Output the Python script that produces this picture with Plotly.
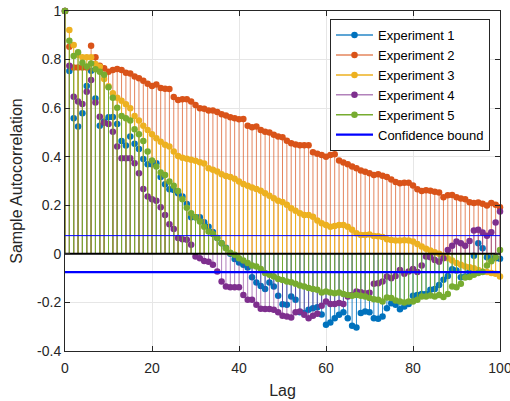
import plotly.graph_objects as go

lags = list(range(101))

exp1 = [1.0, 0.753, 0.558, 0.524, 0.579, 0.691, 0.754, 0.64, 0.527, 0.545,
        0.562, 0.564, 0.535, 0.465, 0.446, 0.483, 0.453, 0.432, 0.391, 0.369,
        0.369, 0.373, 0.316, 0.287, 0.266, 0.263, 0.25, 0.236, 0.205, 0.151,
        0.151, 0.151, 0.13, 0.112, 0.09, 0.065, 0.044, 0.025, 0.0, -0.021,
        -0.036, -0.045, -0.056, -0.096, -0.118, -0.132, -0.145, -0.118, -0.134, -0.173,
        -0.207, -0.21, -0.176, -0.189, -0.24, -0.244, -0.23, -0.224, -0.22, -0.25,
        -0.292, -0.283, -0.265, -0.251, -0.24, -0.265, -0.296, -0.303, -0.244, -0.237,
        -0.24, -0.265, -0.267, -0.258, -0.224, -0.203, -0.21, -0.228, -0.217, -0.206,
        -0.173, -0.169, -0.165, -0.165, -0.148, -0.145, -0.128, -0.107, -0.091, -0.063,
        -0.069, -0.096, -0.093, -0.072, -0.008, 0.044, 0.023, -0.014, -0.018, -0.018,
        -0.02]

exp2 = [1.0, 0.853, 0.767, 0.767, 0.767, 0.767, 0.857, 0.81, 0.775, 0.764,
        0.75, 0.757, 0.761, 0.757, 0.746, 0.743, 0.73, 0.723, 0.713, 0.70,
        0.691, 0.697, 0.683, 0.68, 0.679, 0.646, 0.634, 0.637, 0.637, 0.627,
        0.613, 0.60, 0.597, 0.59, 0.59, 0.584, 0.575, 0.57, 0.563, 0.558,
        0.554, 0.555, 0.528, 0.521, 0.524, 0.51, 0.503, 0.50, 0.49, 0.483,
        0.48, 0.466, 0.455, 0.45, 0.447, 0.447, 0.447, 0.418, 0.412, 0.407,
        0.40, 0.407, 0.41, 0.384, 0.376, 0.369, 0.36, 0.352, 0.343, 0.338,
        0.332, 0.325, 0.328, 0.322, 0.316, 0.306, 0.296, 0.291, 0.293, 0.293,
        0.281, 0.266, 0.259, 0.262, 0.26, 0.256, 0.253, 0.233, 0.241, 0.242,
        0.233, 0.228, 0.225, 0.213, 0.209, 0.211, 0.206, 0.199, 0.209, 0.202,
        0.192]

exp3 = [1.0, 0.922, 0.86, 0.82, 0.81, 0.81, 0.81, 0.782, 0.77, 0.72,
        0.69, 0.661, 0.643, 0.63, 0.616, 0.60, 0.568, 0.549, 0.528, 0.51,
        0.492, 0.476, 0.462, 0.449, 0.442, 0.421, 0.403, 0.396, 0.392, 0.387,
        0.383, 0.377, 0.372, 0.352, 0.346, 0.339, 0.328, 0.321, 0.316, 0.309,
        0.298, 0.288, 0.28, 0.273, 0.267, 0.26, 0.25, 0.239, 0.229, 0.219,
        0.214, 0.202, 0.188, 0.177, 0.167, 0.16, 0.16, 0.153, 0.137, 0.126,
        0.119, 0.112, 0.115, 0.119, 0.119, 0.112, 0.099, 0.085, 0.078, 0.078,
        0.08, 0.074, 0.072, 0.069, 0.06, 0.057, 0.055, 0.055, 0.056, 0.055,
        0.051, 0.041, 0.03, 0.021, 0.014, 0.007, 0.0, -0.008, -0.018, -0.027,
        -0.038, -0.045, -0.052, -0.055, -0.059, -0.066, -0.073, -0.075, -0.079, -0.082,
        -0.093]

exp4 = [1.0, 0.775, 0.647, 0.627, 0.617, 0.668, 0.716, 0.623, 0.565, 0.54,
        0.535, 0.503, 0.442, 0.394, 0.394, 0.394, 0.373, 0.332, 0.267, 0.236,
        0.225, 0.219, 0.192, 0.16, 0.122, 0.102, 0.065, 0.06, 0.058, 0.037,
        -0.011, -0.018, -0.029, -0.032, -0.045, -0.073, -0.114, -0.134, -0.137, -0.137,
        -0.137, -0.169, -0.189, -0.189, -0.21, -0.226, -0.227, -0.227, -0.23, -0.24,
        -0.255, -0.258, -0.262, -0.24, -0.237, -0.251, -0.265, -0.255, -0.247, -0.214,
        -0.196, -0.206, -0.206, -0.202, -0.206, -0.176, -0.169, -0.155, -0.158, -0.162,
        -0.16, -0.123, -0.121, -0.114, -0.093, -0.1, -0.091, -0.066, -0.082, -0.073,
        -0.062, -0.075, -0.048, -0.011, -0.014, -0.025, -0.032, -0.018, 0.016, 0.033,
        0.051, 0.044, 0.033, 0.053, 0.096, 0.099, 0.088, 0.075, 0.089, 0.129,
        0.174]

exp5 = [1.0, 0.878, 0.815, 0.83, 0.787, 0.771, 0.784, 0.76, 0.75, 0.737,
        0.686, 0.643, 0.602, 0.568, 0.558, 0.549, 0.513, 0.492, 0.465, 0.421,
        0.384, 0.36, 0.335, 0.325, 0.298, 0.28, 0.259, 0.225, 0.19, 0.167,
        0.151, 0.133, 0.112, 0.092, 0.082, 0.065, 0.044, 0.023, 0.005, -0.004,
        -0.018, -0.027, -0.038, -0.048, -0.052, -0.062, -0.079, -0.086, -0.093, -0.104,
        -0.108, -0.114, -0.117, -0.123, -0.13, -0.134, -0.141, -0.145, -0.148, -0.159,
        -0.155, -0.159, -0.162, -0.159, -0.165, -0.169, -0.173, -0.169, -0.173, -0.176,
        -0.182, -0.187, -0.189, -0.196, -0.18, -0.182, -0.192, -0.196, -0.2, -0.196,
        -0.196, -0.189, -0.176, -0.176, -0.171, -0.176, -0.169, -0.178, -0.165, -0.134,
        -0.137, -0.123, -0.097, -0.095, -0.086, -0.079, -0.075, -0.048, -0.03, -0.014,
        0.016]

conf_bound = 0.075
names = ["Experiment 1", "Experiment 2", "Experiment 3", "Experiment 4", "Experiment 5"]

series = [exp1, exp2, exp3, exp4, exp5]
marker_colors = ["#0072BD", "#D95319", "#EDB120", "#7E2F8E", "#77AC30"]
stem_colors = ["rgba(0,114,189,0.85)", "rgba(217,83,25,0.7)", "#EDB120",
               "rgba(126,47,142,0.6)", "#77AC30"]
AX = "#262626"

fig = go.Figure()

for name, vals, mc, sc in zip(names, series, marker_colors, stem_colors):
    sx, sy = [], []
    for lag, v in zip(lags, vals):
        sx += [lag, lag, None]
        sy += [0, v, None]
    fig.add_trace(go.Scatter(x=sx, y=sy, mode="lines", line=dict(color=sc, width=1),
                             showlegend=False, hoverinfo="skip"))
    fig.add_trace(go.Scatter(x=lags, y=vals, mode="markers", cliponaxis=False,
                             marker=dict(color=mc, size=6.5), showlegend=False, name=name))
    # legend entry only
    fig.add_trace(go.Scatter(x=[None], y=[None], mode="lines+markers", name=name,
                             line=dict(color=sc, width=1.5), marker=dict(color=mc, size=6.5)))

# zero line and confidence bounds
fig.add_trace(go.Scatter(x=[0, 100], y=[0, 0], mode="lines",
                         line=dict(color="black", width=2), showlegend=False))
fig.add_trace(go.Scatter(x=[0, 100], y=[conf_bound, conf_bound], mode="lines",
                         line=dict(color="#0000FF", width=1), showlegend=False))
fig.add_trace(go.Scatter(x=[0, 100], y=[-conf_bound, -conf_bound], mode="lines",
                         line=dict(color="#0000FF", width=2.2), name="Confidence bound"))

fig.update_layout(
    width=510, height=401,
    paper_bgcolor="white", plot_bgcolor="white",
    font=dict(family="Liberation Sans, Arial, sans-serif", size=14, color=AX),
    margin=dict(l=65, r=10, t=11, b=50),
    showlegend=True,
    legend=dict(x=0.977, y=0.976, xanchor="right", yanchor="top",
                bgcolor="white", bordercolor=AX, borderwidth=1,
                font=dict(size=13, color="black"), tracegroupgap=0,
                itemwidth=37),
    xaxis=dict(range=[0, 100], tickvals=[0, 20, 40, 60, 80, 100],
               showgrid=True, gridcolor="#e6e6e6", zeroline=False, automargin=False,
               showline=True, linecolor=AX, linewidth=1, mirror="ticks",
               ticks="inside", ticklen=5, tickcolor=AX, ticklabeloverflow="allow",
               ticklabelstandoff=4,
               title=dict(text="Lag", font=dict(size=16), standoff=10)),
    yaxis=dict(range=[-0.4, 1], tickvals=[-0.4, -0.2, 0, 0.2, 0.4, 0.6, 0.8, 1],
               ticktext=["-0.4", "-0.2", "0", "0.2", "0.4", "0.6", "0.8", "1"],
               showgrid=True, gridcolor="#e6e6e6", zeroline=False, automargin=False,
               showline=True, linecolor=AX, linewidth=1, mirror="ticks",
               ticks="inside", ticklen=5, tickcolor=AX, ticklabeloverflow="allow",
               title=dict(text="Sample Autocorrelation", font=dict(size=16), standoff=10)),
)

# drop the browser's default body margin so the figure sits at the page corner
fig.write_html("out.html", config={"displayModeBar": False},
               post_script="document.body.style.margin = '0';")
